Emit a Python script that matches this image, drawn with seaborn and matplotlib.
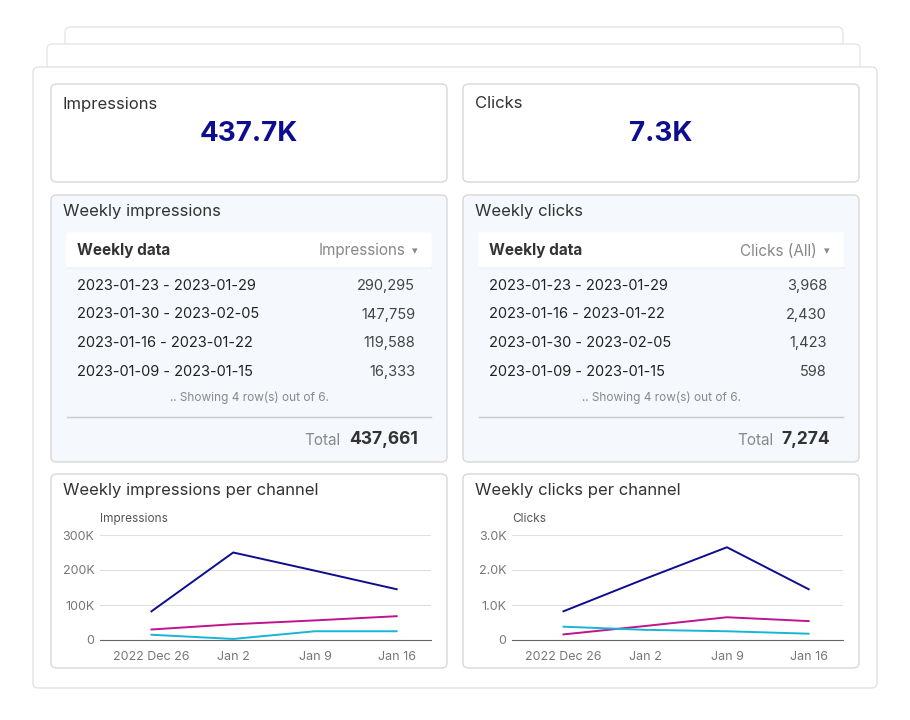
import matplotlib
matplotlib.use("Agg")
import matplotlib.pyplot as plt
from matplotlib.patches import FancyBboxPatch
import seaborn as sns
import pandas as pd

plt.rcParams["font.family"] = "Inter"

W, H = 910, 720
weeks = ["2022 Dec 26", "Jan 2", "Jan 9", "Jan 16"]
imp_a = [82000, 250000, 198000, 145000]
imp_b = [30000, 45000, 56000, 68000]
imp_c = [15000, 3000, 25000, 25000]
clk_a = [820, 1750, 2650, 1450]
clk_b = [160, 400, 650, 540]
clk_c = [380, 290, 250, 180]

imp_weeks = ["2023-01-23 - 2023-01-29", "2023-01-30 - 2023-02-05", "2023-01-16 - 2023-01-22", "2023-01-09 - 2023-01-15"]
imp_vals = ["290,295", "147,759", "119,588", "16,333"]
clk_weeks = ["2023-01-23 - 2023-01-29", "2023-01-16 - 2023-01-22", "2023-01-30 - 2023-02-05", "2023-01-09 - 2023-01-15"]
clk_vals = ["3,968", "2,430", "1,423", "598"]

NAVY = "#0d0d8f"; MAG = "#c0138e"; CYAN = "#19b5d6"; TXT = "#333333"; GREY = "#888888"

fig = plt.figure(figsize=(W/100, H/100), dpi=100)
fig.patch.set_facecolor("white")

def box(x0, y0, x1, y1, fc="white", ec="#dddddd", r=6, lw=1.0, z=0):
    p = FancyBboxPatch((x0/W, 1-y1/H), (x1-x0)/W, (y1-y0)/H,
                       boxstyle=f"round,pad=0,rounding_size={r/W}",
                       transform=fig.transFigure, fc=fc, ec=ec, lw=lw, zorder=z)
    fig.patches.append(p)

def t(x, y, s, **kw):
    fig.text(x/W, 1-y/H, s, **kw)

box(65, 27, 843, 100, ec="#e6e6e6", z=0)
box(47, 44, 860, 100, ec="#e6e6e6", z=0)
box(33, 67, 877, 688, ec="#e2e2e2", z=0)

for x0, x1, title, big in [(51, 447, "Impressions", "437.7K"), (463, 859, "Clicks", "7.3K")]:
    box(x0, 84, x1, 182, ec="#d8d8d8", z=1)
    t(x0+12, 104, title, fontsize=12, color=TXT, va="center")
    t((x0+x1)/2, 134, big, fontsize=20, color=NAVY, weight="bold", ha="center", va="center")

for x0, x1, title, col, rows, vals, total, tx in [
        (51, 447, "Weekly impressions", "Impressions", imp_weeks, imp_vals, "437,661", 107),
        (463, 859, "Weekly clicks", "Clicks (All)", clk_weeks, clk_vals, "7,274", 86)]:
    box(x0, 195, x1, 462, fc="#f5f8fc", ec="#d8d8d8", z=1)
    t(x0+12, 211, title, fontsize=12, color=TXT, va="center")
    box(x0+16, 233, x1-16, 267, fc="white", ec="white", r=0, z=2)
    fig.add_artist(plt.Line2D([(x0+16)/W, (x1-16)/W], [1-267/H]*2, color="#dddddd", lw=1))
    t(x0+26, 251, "Weekly data", fontsize=11, color=TXT, weight="bold", va="center")
    t(x1-42, 251, col, fontsize=11, color=GREY, ha="right", va="center")
    t(x1-29, 251, "▾", fontsize=8, color=GREY, ha="right", va="center", family="DejaVu Sans")
    for i, (r, v) in enumerate(zip(rows, vals)):
        y = 286 + i*28.5
        t(x0+26, y, r, fontsize=10.5, color="#222222", va="center")
        t(x1-32, y, v, fontsize=10.5, color="#444444", ha="right", va="center")
    t((x0+x1)/2, 398, ".. Showing 4 row(s) out of 6.", fontsize=8.5, color=GREY, ha="center", va="center")
    fig.add_artist(plt.Line2D([(x0+16)/W, (x1-16)/W], [1-417/H]*2, color="#cccccc", lw=1))
    t(x1-tx, 440, "Total", fontsize=11, color=GREY, ha="right", va="center")
    t(x1-29, 439, total, fontsize=12.5, color="#333333", weight="bold", ha="right", va="center")

for x0, x1, title, ylab, series, ymax, fmt in [
        (51, 447, "Weekly impressions per channel", "Impressions", (imp_a, imp_b, imp_c), 300000,
         lambda v: "0" if v == 0 else f"{int(v/1000)}K"),
        (463, 859, "Weekly clicks per channel", "Clicks", (clk_a, clk_b, clk_c), 3000,
         lambda v: "0" if v == 0 else f"{v/1000:.1f}K")]:
    box(x0, 474, x1, 668, ec="#d8d8d8", z=1)
    t(x0+12, 491, title, fontsize=12, color=TXT, va="center")
    t(x0+49, 519, ylab, fontsize=8.5, color="#555555", va="center")
    ax = fig.add_axes([(x0+49)/W, 1-640/H, (x1-16-(x0+49))/W, (640-535)/H])
    ax.set_zorder(5)
    df = pd.DataFrame({"week": list(range(4))*3,
                       "value": series[0]+series[1]+series[2],
                       "ch": ["a"]*4+["b"]*4+["c"]*4})
    sns.lineplot(data=df, x="week", y="value", hue="ch", palette=[NAVY, MAG, CYAN],
                 ax=ax, legend=False, lw=1.4)
    ax.set_ylim(0, ymax)
    ax.set_xlim(-0.63, 3.42)
    ticks = [0, ymax/3, 2*ymax/3, ymax]
    ax.set_yticks(ticks); ax.set_yticklabels([fmt(v) for v in ticks])
    ax.set_xticks(range(4)); ax.set_xticklabels(weeks)
    ax.grid(axis="y", color="#e0e0e0", lw=0.8); ax.set_axisbelow(True)
    for s in ["top", "right", "left"]:
        ax.spines[s].set_visible(False)
    ax.spines["bottom"].set_color("#666666")
    ax.tick_params(length=0, labelsize=9, colors="#777777", pad=8)
    ax.tick_params(axis="y", pad=4)
    ax.set_xlabel(""); ax.set_ylabel("")
    ax.patch.set_alpha(0)

fig.savefig("out.png", dpi=100, facecolor="white")
